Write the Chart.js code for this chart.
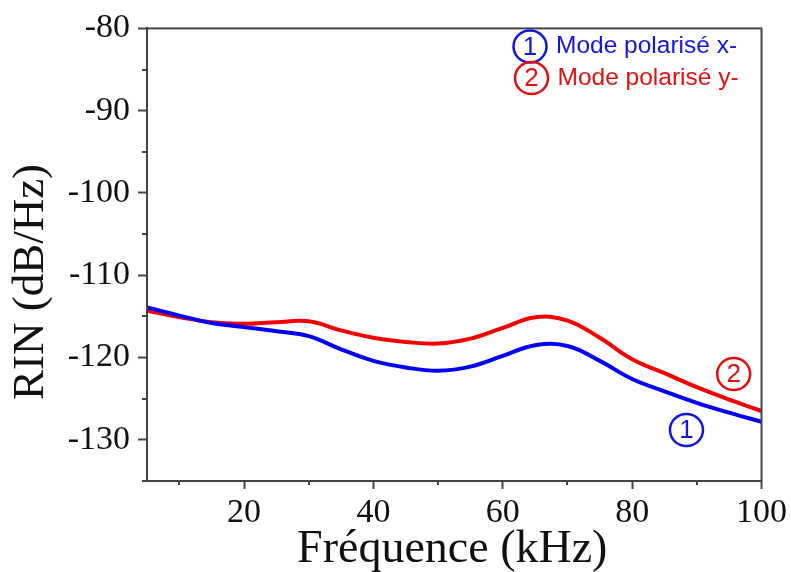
<!DOCTYPE html>
<html><head><meta charset="utf-8">
<script src="https://cdn.jsdelivr.net/npm/chart.js@4/dist/chart.umd.min.js"></script>
<style>html,body{margin:0;padding:0;background:#fff;}</style>
</head><body>
<canvas id="c" width="791" height="572"></canvas>
<script>
// ---- data ----
const frequencies = [5, 10, 15, 20, 25, 30, 35, 40, 45, 50, 55, 60, 65, 70, 75, 80, 85, 90, 95, 100];
const rinModeX = [-113.9, -114.9, -115.8, -116.3, -116.8, -117.4, -119.0, -120.4, -121.2, -121.6, -121.1, -119.8, -118.5, -118.6, -120.4, -122.6, -124.1, -125.5, -126.7, -127.8];
const rinModeY = [-114.3, -115.1, -115.7, -115.9, -115.7, -115.6, -116.7, -117.6, -118.1, -118.3, -117.7, -116.4, -115.1, -115.5, -117.6, -120.2, -121.9, -123.6, -125.1, -126.5];
const xTickValues = [20, 40, 60, 80, 100];
const yTickValues = [-80, -90, -100, -110, -120, -130];
const xMinorTicks = [10, 30, 50, 70, 90];
const yMinorTicks = [-85, -95, -105, -115, -125, -135];
const seriesLabels = ['Mode polarisé x-', 'Mode polarisé y-'];
const seriesNumbers = ['1', '2'];
const markerX = [88.4, 95.7];
const markerY = [-128.8, -122.0];
const xTitle = 'Fréquence (kHz)';
const yTitle = 'RIN (dB/Hz)';

// ---- styles ----
const lineColors = ['#0000f5', '#f50000'];
const textColors = ['#1414dc', '#e01010'];
const axisColor = '#444444';
const serif = '"Liberation Serif", "Times New Roman", serif';
const sans = '"Liberation Sans", Arial, sans-serif';

const datasets = [rinModeX, rinModeY].map((vals, i) => ({
  label: seriesLabels[i],
  data: frequencies.map((f, k) => ({ x: f, y: vals[k] })),
  borderColor: lineColors[i],
  borderWidth: 4,
  pointRadius: 0,
  fill: false,
  tension: 0.4
}));

const decor = {
  id: 'decor',
  afterDraw(chart) {
    const ctx = chart.ctx;
    const a = chart.chartArea;
    const xs = chart.scales.x, ys = chart.scales.y;
    ctx.save();
    // frame
    ctx.strokeStyle = axisColor;
    ctx.lineWidth = 2;
    ctx.strokeRect(a.left, a.top, a.right - a.left, a.bottom - a.top);
    // minor ticks
    ctx.beginPath();
    xMinorTicks.forEach(v => {
      const px = Math.round(xs.getPixelForValue(v));
      ctx.moveTo(px, a.bottom); ctx.lineTo(px, a.bottom + 4);
    });
    yMinorTicks.forEach(v => {
      const py = Math.round(ys.getPixelForValue(v));
      ctx.moveTo(a.left, py); ctx.lineTo(a.left - 5, py);
    });
    ctx.stroke();
    // axis titles
    ctx.fillStyle = '#111';
    ctx.font = '46px ' + serif;
    ctx.textAlign = 'center';
    ctx.textBaseline = 'alphabetic';
    ctx.fillText(xTitle, (a.left + a.right) / 2 - 2, 562);
    ctx.save();
    ctx.translate(43, 282);
    ctx.rotate(-Math.PI / 2);
    ctx.font = '45px ' + serif;
    ctx.fillText(yTitle, 0, 0);
    ctx.restore();
    // legend (top right)
    const legendPos = [[530, 46.5], [531.5, 78]];
    seriesLabels.forEach((lab, i) => {
      const [cx, cy] = legendPos[i];
      ctx.strokeStyle = textColors[i];
      ctx.lineWidth = 2.5;
      ctx.beginPath();
      ctx.ellipse(cx, cy, 16.5, 16, 0, 0, Math.PI * 2);
      ctx.stroke();
      ctx.fillStyle = textColors[i];
      ctx.font = '26px ' + sans;
      ctx.textAlign = 'center';
      ctx.textBaseline = 'middle';
      ctx.fillText(seriesNumbers[i], cx, cy + 1);
      ctx.font = '24.5px ' + sans;
      ctx.textAlign = 'left';
      ctx.fillText(lab, cx + 26, cy);
    });
    // curve markers
    markerX.forEach((mx, i) => {
      const cx = xs.getPixelForValue(mx), cy = ys.getPixelForValue(markerY[i]);
      ctx.strokeStyle = textColors[i];
      ctx.lineWidth = 2.5;
      ctx.beginPath();
      ctx.ellipse(cx, cy, 16.5, 16, 0, 0, Math.PI * 2);
      ctx.stroke();
      ctx.fillStyle = textColors[i];
      ctx.font = '26px ' + sans;
      ctx.textAlign = 'center';
      ctx.textBaseline = 'middle';
      ctx.fillText(seriesNumbers[i], cx, cy + 1);
    });
    ctx.restore();
  }
};

new Chart(document.getElementById('c'), {
  type: 'line',
  data: { datasets },
  options: {
    responsive: false,
    animation: false,
    devicePixelRatio: 1,
    layout: { padding: { top: 24, right: 28, left: 0, bottom: 0 } },
    plugins: { legend: { display: false }, tooltip: { enabled: false } },
    scales: {
      x: {
        type: 'linear',
        min: 5, max: 100,
        afterBuildTicks: s => { s.ticks = xTickValues.map(v => ({ value: v })); },
        afterFit: s => { s.height = 91; },
        ticks: { color: '#111', font: { family: serif, size: 34 }, padding: 4, maxRotation: 0 },
        grid: { drawOnChartArea: false, drawTicks: true, tickLength: 8, tickWidth: 2, tickColor: axisColor },
        border: { display: true, color: axisColor, width: 2 }
      },
      y: {
        type: 'linear',
        min: -135, max: -80,
        afterBuildTicks: s => { s.ticks = yTickValues.map(v => ({ value: v })); },
        afterFit: s => { s.width = 147; },
        ticks: { color: '#111', font: { family: serif, size: 34 }, padding: 8 },
        grid: { drawOnChartArea: false, drawTicks: true, tickLength: 9, tickWidth: 2, tickColor: axisColor },
        border: { display: true, color: axisColor, width: 2 }
      }
    }
  },
  plugins: [decor]
});
</script>
</body></html>
